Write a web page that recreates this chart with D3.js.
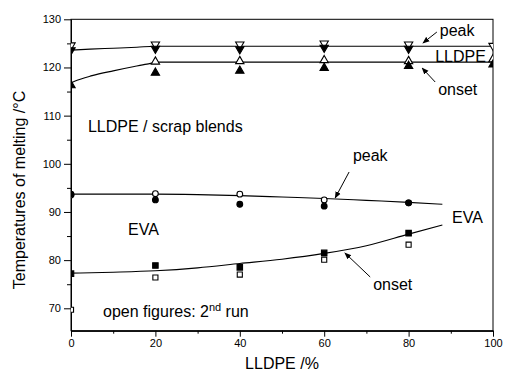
<!DOCTYPE html>
<html>
<head>
<meta charset="utf-8">
<script src="https://cdn.jsdelivr.net/npm/d3@7"></script>
<style>
  body { margin: 0; background: #fff; }
  text { font-family: "Liberation Sans", Arial, sans-serif; fill: #000; }
</style>
</head>
<body>
<svg id="chart" width="505" height="378"></svg>
<script>
// =====================
// DATA
// =====================
const blendX = [0, 20, 40, 60, 80, 100];

// filled = 1st run, open = 2nd run
const lldpePeakRun1  = [123.6, 123.9, 123.8, 124.1, 123.9, null];
const lldpePeakRun2  = [124.6, 124.8, 124.8, 125.0, 124.8, 124.5];
const lldpeOnsetRun1 = [116.3, 118.9, 119.3, 119.9, 120.3, 120.6];
const lldpeOnsetRun2 = [null, 121.2, 121.3, 121.5, 121.3, 121.7];
const evaPeakRun1    = [93.7, 92.5, 91.6, 91.2, 91.9, null];
const evaPeakRun2    = [93.5, 93.8, 93.7, 92.5, 91.9, null];
const evaOnsetRun1   = [77.2, 78.9, 78.5, 81.5, 85.6, null];
const evaOnsetRun2   = [69.7, 76.4, 77.0, 80.1, 83.2, null];

// fitted curves
const lldpePeakFitX  = [0, 4.5, 10, 15.6, 20, 100];
const lldpePeakFitY  = [123.6, 123.8, 124.0, 124.2, 124.4, 124.4];
const lldpeOnsetFitX = [0, 1, 5, 10, 15, 18, 21, 100];
const lldpeOnsetFitY = [116.8, 117.2, 118.3, 119.3, 120.2, 120.7, 121.1, 121.1];
const evaPeakFitX    = [0, 20, 30, 40, 50, 60, 70, 80, 88];
const evaPeakFitY    = [93.7, 93.7, 93.6, 93.4, 93.1, 92.8, 92.4, 92.0, 91.6];
const evaOnsetFitX   = [0, 10, 20, 30, 40, 50, 60, 70, 80, 88];
const evaOnsetFitY   = [77.3, 77.5, 77.8, 78.4, 79.3, 80.2, 81.4, 83.0, 85.4, 87.3];

const xTicks = [0, 20, 40, 60, 80, 100];
const yTicks = [70, 80, 90, 100, 110, 120, 130];

// =====================
// SVG SETUP
// =====================
const mLeft = 71, mRight = 493, mTop = 19.3, mBottom = 330.7;
const svg = d3.select("#chart");

const x = d3.scaleLinear().domain([0, 100]).range([mLeft, mRight]);
const y = d3.scaleLinear().domain([65.35, 130]).range([mBottom, mTop]);

const defs = svg.append("defs");
defs.append("clipPath").attr("id", "plot")
  .append("rect")
  .attr("x", mLeft).attr("y", mTop)
  .attr("width", mRight - mLeft).attr("height", mBottom - mTop);

defs.append("marker")
  .attr("id", "head")
  .attr("viewBox", "0 0 10 10")
  .attr("refX", 9).attr("refY", 5)
  .attr("markerWidth", 7).attr("markerHeight", 7)
  .attr("markerUnits", "userSpaceOnUse")
  .attr("orient", "auto")
  .append("path").attr("d", "M0,1 L10,5 L0,9 Z").attr("fill", "#000");

// =====================
// AXES
// =====================
svg.append("g")
  .attr("transform", `translate(${mLeft},0)`)
  .call(d3.axisLeft(y).tickValues(yTicks).tickSize(7).tickSizeOuter(0).tickPadding(3));
svg.append("g")
  .attr("transform", `translate(${mLeft},0)`)
  .call(d3.axisLeft(y).tickValues(d3.range(75, 130, 10)).tickSize(4).tickFormat("").tickSizeOuter(0));

svg.append("g")
  .attr("transform", `translate(0,${mBottom})`)
  .call(d3.axisBottom(x).tickValues(xTicks).tickSize(6).tickSizeOuter(0).tickPadding(3));
svg.append("g")
  .attr("transform", `translate(0,${mBottom})`)
  .call(d3.axisBottom(x).tickValues(d3.range(10, 100, 20)).tickSize(3).tickFormat("").tickSizeOuter(0));

svg.selectAll(".tick text")
  .style("font-family", "'Liberation Sans', Arial, sans-serif")
  .style("font-size", "11px");
svg.selectAll(".domain, .tick line").attr("stroke", "#000");

// frame
svg.append("rect")
  .attr("x", mLeft).attr("y", mTop)
  .attr("width", mRight - mLeft).attr("height", mBottom - mTop)
  .attr("fill", "none").attr("stroke", "#000");

// =====================
// FIT LINES
// =====================
const line = d3.line().curve(d3.curveMonotoneX).x(d => x(d[0])).y(d => y(d[1]));
const fits = [
  [lldpePeakFitX, lldpePeakFitY],
  [lldpeOnsetFitX, lldpeOnsetFitY],
  [evaPeakFitX, evaPeakFitY],
  [evaOnsetFitX, evaOnsetFitY]
];
const plot = svg.append("g").attr("clip-path", "url(#plot)");
fits.forEach(([xs, ys]) => {
  plot.append("path")
    .datum(xs.map((v, i) => [v, ys[i]]))
    .attr("d", line)
    .attr("fill", "none")
    .attr("stroke", "#000")
    .attr("stroke-width", 1.1);
});

// =====================
// MARKERS
// =====================
const series = [
  {vals: lldpePeakRun2,  sym: d3.symbolTriangle, size: 30, rot: 180, filled: false},
  {vals: lldpePeakRun1,  sym: d3.symbolTriangle, size: 30, rot: 180, filled: true},
  {vals: lldpeOnsetRun2, sym: d3.symbolTriangle, size: 30, rot: 0,   filled: false},
  {vals: lldpeOnsetRun1, sym: d3.symbolTriangle, size: 30, rot: 0,   filled: true},
  {vals: evaPeakRun2,    sym: d3.symbolCircle,   size: 26, rot: 0,   filled: false},
  {vals: evaPeakRun1,    sym: d3.symbolCircle,   size: 26, rot: 0,   filled: true},
  {vals: evaOnsetRun2,   sym: d3.symbolSquare,   size: 26, rot: 0,   filled: false},
  {vals: evaOnsetRun1,   sym: d3.symbolSquare,   size: 30, rot: 0,   filled: true}
];
series.forEach(s => {
  const pts = blendX.map((v, i) => [v, s.vals[i]]).filter(d => d[1] != null);
  plot.append("g").selectAll("path")
    .data(pts)
    .enter()
    .append("path")
    .attr("d", d3.symbol().type(s.sym).size(s.size))
    .attr("transform", d => `translate(${x(d[0])},${y(d[1])}) rotate(${s.rot})`)
    .attr("fill", s.filled ? "#000" : "#fff")
    .attr("stroke", "#000")
    .attr("stroke-width", 1.1);
});

// =====================
// ANNOTATIONS
// =====================
const notes = [
  {t: "peak", x: 87.4, y: 126.55},
  {t: "LLDPE", x: 86.3, y: 121.14},
  {t: "onset", x: 87.0, y: 114.29},
  {t: "LLDPE / scrap blends", x: 4.0, y: 106.6},
  {t: "peak", x: 66.8, y: 100.58},
  {t: "EVA", x: 13.5, y: 85.22},
  {t: "EVA", x: 90.3, y: 87.71},
  {t: "onset", x: 71.6, y: 73.8}
];
svg.selectAll(".note")
  .data(notes)
  .enter()
  .append("text")
  .attr("class", "note")
  .attr("x", d => x(d.x))
  .attr("y", d => y(d.y))
  .style("font-size", "16px")
  .text(d => d.t);

const run = svg.append("text")
  .attr("x", x(7.6)).attr("y", y(68.2))
  .style("font-size", "16px");
run.append("tspan").text("open figures: 2");
run.append("tspan").attr("dy", -6).style("font-size", "11px").text("nd");
run.append("tspan").attr("dy", 6).text(" run");

const arrows = [
  [86.7, 127.36, 83.4, 125.08],
  [86.3, 116.98, 83.2, 119.89],
  [65.9, 98.3, 62.6, 92.9],
  [70.9, 76.5, 64.9, 81.5]
];
svg.selectAll(".arrow")
  .data(arrows)
  .enter()
  .append("line")
  .attr("x1", d => x(d[0])).attr("y1", d => y(d[1]))
  .attr("x2", d => x(d[2])).attr("y2", d => y(d[3]))
  .attr("stroke", "#000")
  .attr("stroke-width", 1)
  .attr("marker-end", "url(#head)");

// =====================
// AXIS LABELS
// =====================
svg.append("text")
  .attr("x", (mLeft + mRight) / 2)
  .attr("y", 369)
  .attr("text-anchor", "middle")
  .style("font-size", "16px")
  .text("LLDPE /%");

svg.append("text")
  .attr("transform", "rotate(-90)")
  .attr("x", -190)
  .attr("y", 25)
  .attr("text-anchor", "middle")
  .style("font-size", "16px")
  .text("Temperatures of melting /°C");
</script>
</body>
</html>
